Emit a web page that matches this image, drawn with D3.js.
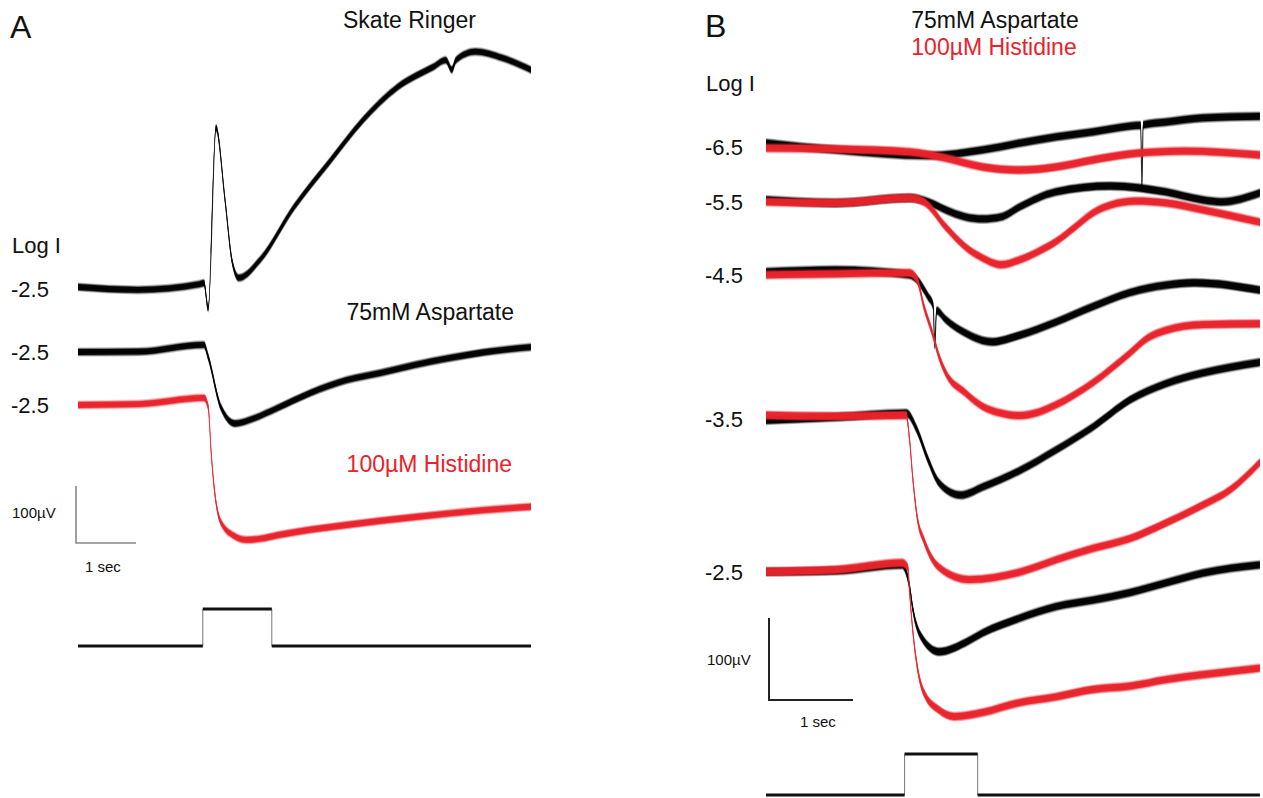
<!DOCTYPE html>
<html><head><meta charset="utf-8">
<script src="https://cdn.jsdelivr.net/npm/d3@7"></script>
<style>
html,body{margin:0;padding:0;background:#fff;}
svg{display:block;font-family:"Liberation Sans",Arial,Helvetica,sans-serif;}
</style></head><body>
<svg id="chart" width="1263" height="798"></svg>
<script>
// ---------------- DATA (time in s, response in µV relative to each trace's pre-stimulus baseline) ----------------
// Panel A
const ringerA = [[0,0],[1.0,-5],[2.03,5],[2.1,7],[2.17,-37],[2.3,279],[2.45,153],[2.57,44],[2.68,16],[3.03,47],[3.6,140],[4.18,218],[4.75,293],[5.33,351],[5.92,386],[6.13,398],[6.23,381],[6.3,398],[6.62,413],[7.07,402],[7.55,381]];
const aspA = [[0,-3.5],[1.0,-3],[2.1,9],[2.17,-12],[2.38,-100],[2.62,-129],[2.85,-123],[3.32,-102],[3.88,-75],[4.47,-53],[5.05,-40],[5.62,-26],[6.2,-14],[6.77,-4],[7.55,5]];
const hisA = [[0,-3.5],[1.0,-2],[2.1,9],[2.17,-7],[2.22,-88],[2.28,-158],[2.38,-209],[2.6,-233],[2.8,-240],[3.05,-238],[3.32,-232],[4.47,-214],[5.62,-200],[6.77,-188],[7.55,-182]];
const labelsA = ["-2.5","-2.5","-2.5"];
const baselineA = [0, -110.5, -203.5];      // stacking offsets (µV)
const stimA = [[0,0],[2.08,0],[2.08,1],[3.23,1],[3.23,0],[7.55,0]];

// Panel B
const levelsB = ["-6.5","-5.5","-4.5","-3.5","-2.5"];
const baselineB = [0, -67, -156, -332, -518]; // stacking offsets (µV)
const asp65 = [[0,2.4],[0.83,-6],[1.93,-13],[2.58,-6],[3.02,2.4],[3.45,9.8],[3.89,15.9],[4.33,23],[4.46,24],[4.476,-49],[4.49,24.5],[4.76,28],[5.2,33],[5.88,35]];
const his65 = [[0,-3.7],[0.83,-4.9],[1.71,-8.5],[2.14,-15.9],[2.58,-26.8],[3.02,-30.5],[3.45,-26.8],[3.89,-18.3],[4.33,-11],[4.98,-7.5],[5.88,-12.2]];
const asp55 = [[0,0],[0.83,-3.7],[1.71,2.4],[1.93,-2.4],[2.14,-12.2],[2.37,-20.7],[2.58,-23.2],[2.8,-20.7],[3.02,-8.5],[3.45,9.8],[4.1,17],[4.76,9.8],[5.2,0],[5.42,-2.4],[5.88,8.5]];
const his55 = [[0,-2.4],[0.83,-3.7],[1.71,2.4],[1.88,-2.4],[2.14,-33],[2.37,-57],[2.58,-71],[2.8,-79],[3.02,-73],[3.24,-63],[3.45,-51],[3.68,-33],[3.89,-16],[4.11,-6],[4.4,-1.5],[4.76,-3.7],[5.2,-12],[5.88,-27]];
const asp45 = [[0,1.2],[0.83,3.7],[1.71,-2.4],[1.8,-8.5],[1.93,-29],[1.99,-40],[2.01,-88],[2.03,-46],[2.14,-57],[2.37,-73],[2.69,-84],[3.02,-76],[3.45,-60],[3.89,-41],[4.33,-24],[4.76,-15],[5.1,-12],[5.88,-21]];
const his45 = [[0,-2.4],[0.83,-1.2],[1.71,0],[1.8,-8.5],[1.88,-41],[1.98,-73],[2.06,-102],[2.14,-122],[2.37,-146],[2.58,-163],[2.8,-171],[3.02,-174],[3.24,-170],[3.45,-161],[3.89,-134],[4.33,-98],[4.55,-79],[4.76,-70],[5.2,-63],[5.88,-62]];
const asp35 = [[0,-3.7],[0.83,0],[1.67,4.9],[1.8,-16],[1.93,-52],[2.06,-80],[2.32,-95],[2.58,-85],[3.02,-65],[3.45,-40],[3.89,-12],[4.33,21],[4.76,41],[5.2,54],[5.88,67]];
const his35 = [[0,2.4],[0.83,1.2],[1.67,2.4],[1.71,-28],[1.75,-77],[1.8,-122],[1.88,-150],[2.06,-183],[2.42,-198],[3.02,-189],[3.45,-174],[3.89,-160],[4.33,-148],[4.76,-129],[5.2,-107],[5.52,-89],[5.88,-55]];
const asp25 = [[0,-2.4],[0.83,-1.2],[1.62,6],[1.71,-21],[1.75,-49],[1.85,-82],[2.06,-100],[2.37,-89],[2.58,-77],[3.02,-59],[3.45,-45],[3.89,-37],[4.33,-28],[4.76,-16],[5.2,-4],[5.88,6]];
const his25 = [[0,-2.4],[0.83,0],[1.62,8.5],[1.69,2.4],[1.71,-28],[1.75,-77],[1.8,-118],[1.88,-150],[2.06,-171],[2.24,-179],[2.58,-174],[3.02,-162],[3.45,-155],[3.89,-146],[4.33,-142],[4.76,-134],[5.2,-128],[5.88,-120]];
const aspB = [asp65, asp55, asp45, asp35, asp25];
const hisB = [his65, his55, his45, his35, his25];
const stimB = [[0,0],[1.65,0],[1.65,1],[2.52,1],[2.52,0],[5.88,0]];

// ---------------- DRAWING ----------------
const RED = "#e8232b";
const svg = d3.select("#chart");

// scales: calibrated by the scale bars (1 sec, 100 µV)
const xA = d3.scaleLinear().domain([0,1]).range([78,138]);
const yA = d3.scaleLinear().domain([0,100]).range([287,230]);
const sA = d3.scaleLinear().domain([0,1]).range([646,609]);
const xB = d3.scaleLinear().domain([0,1]).range([766,850]);
const yB = d3.scaleLinear().domain([0,100]).range([145,63]);
const sB = d3.scaleLinear().domain([0,1]).range([795,754]);

const CURVE = d3.curveMonotoneX;
function trace(data, x, y, off, color, h) {
  const g = svg.append("g");
  const band = (hh) => d3.area().curve(CURVE)
      .x(d => x(d[0])).y0(d => y(d[1] + off) - hh).y1(d => y(d[1] + off) + hh);
  g.append("path").attr("d", band(h + 1.7)(data)).attr("fill", color).attr("opacity", 0.26);
  g.append("path").attr("d", band(h + 0.8)(data)).attr("fill", color).attr("opacity", 0.45);
  g.append("path").attr("d", band(h)(data)).attr("fill", color).attr("opacity", 0.95);
  g.append("path").attr("d", d3.line().curve(CURVE).x(d => x(d[0])).y(d => y(d[1] + off))(data))
    .attr("fill", "none").attr("stroke", color).attr("stroke-width", 1.1).attr("opacity", 0.8);
}
function stim(data, x, s) {
  const g = svg.append("g");
  g.append("path").attr("d", d3.line().x(d => x(d[0])).y(d => s(d[1]))(data))
    .attr("fill", "none").attr("stroke", "#777").attr("stroke-width", 1);
  g.append("path").attr("d", d3.area().x(d => x(d[0])).y0(d => s(d[1]) - 1.4).y1(d => s(d[1]) + 1.4)(data))
    .attr("fill", "#111");
}
function txt(x, y, s, size, color, anchor) {
  svg.append("text").attr("x", x).attr("y", y).attr("font-size", size)
    .attr("fill", color || "#111").attr("text-anchor", anchor || "start").text(s);
}
function scaleBar(x0, y0, xs, ys, color, w) {
  const dx = xs(1) - xs(0), dy = ys(0) - ys(100);
  svg.append("path").attr("d", `M${x0},${y0 - dy}V${y0}H${x0 + dx}`)
    .attr("fill", "none").attr("stroke", color).attr("stroke-width", w);
}

// ---- Panel A ----
txt(10, 38, "A", 32);
txt(343, 28, "Skate Ringer", 23);
txt(514, 320, "75mM Aspartate", 23, "#111", "end");
txt(512, 472, "100µM Histidine", 23, RED, "end");
txt(12, 253, "Log I", 22);
labelsA.forEach((l, i) => txt(11, yA(baselineA[i]) + 10, l, 22));
trace(ringerA, xA, yA, baselineA[0], "#000", 2.9);
trace(aspA, xA, yA, baselineA[1], "#000", 2.9);
trace(hisA, xA, yA, baselineA[2], RED, 2.9);
scaleBar(76, 543, xA, yA, "#888", 1.6);
txt(12, 518, "100µV", 15);
txt(85, 572, "1 sec", 15);
stim(stimA, xA, sA);

// ---- Panel B ----
txt(705, 37, "B", 32);
txt(995, 28, "75mM Aspartate", 23, "#111", "middle");
txt(994, 55, "100µM Histidine", 23, RED, "middle");
txt(706, 91, "Log I", 22);
levelsB.forEach((l, i) => txt(705, yB(baselineB[i]) + 10, l, 22));
aspB.forEach((d, i) => trace(d, xB, yB, baselineB[i], "#000", 3.4));
hisB.forEach((d, i) => trace(d, xB, yB, baselineB[i], RED, 3.4));
scaleBar(769, 700, xB, yB, "#222", 2);
txt(707, 665, "100µV", 15);
txt(800, 727, "1 sec", 15);
stim(stimB, xB, sB);
</script>
</body></html>
